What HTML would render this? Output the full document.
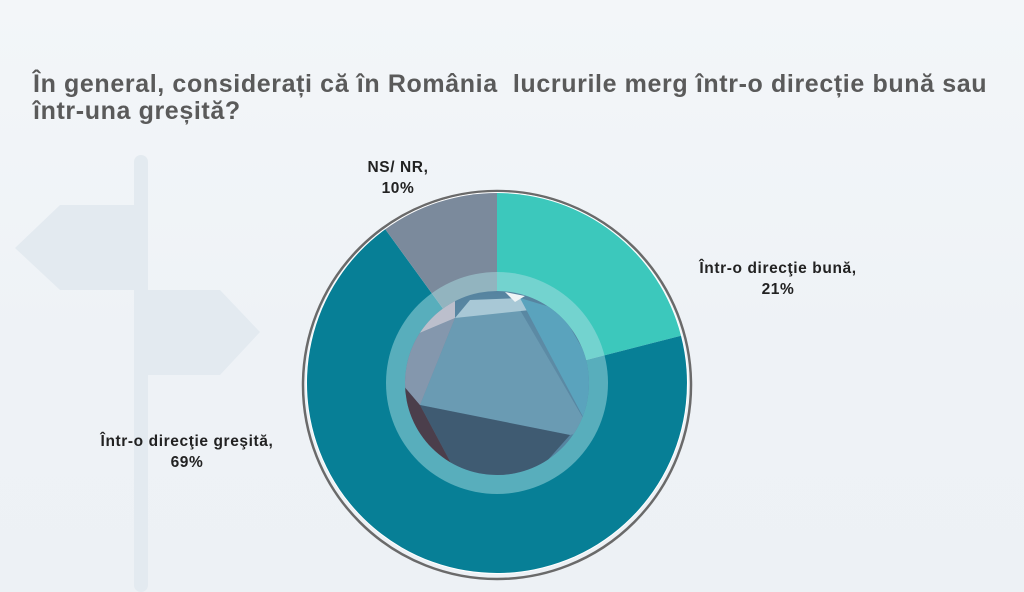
<!DOCTYPE html>
<html><head><meta charset="utf-8"><style>
html,body{margin:0;padding:0}
body{width:1024px;height:592px;overflow:hidden;background:linear-gradient(180deg,#f3f6f9 0%,#eef2f6 60%,#edf1f5 100%);position:relative;font-family:"Liberation Sans",sans-serif}
.t{position:absolute;left:33px;top:71px;font-size:25px;letter-spacing:0.62px;font-weight:bold;color:#5a5a5a;line-height:27px;white-space:nowrap}
.l{position:absolute;font-family:"Liberation Sans",sans-serif;font-weight:bold;font-size:15.5px;letter-spacing:0.6px;color:#222;text-align:center;line-height:21px;white-space:nowrap}
</style></head><body>
<svg width="1024" height="592" style="position:absolute;left:0;top:0">
<defs>
<radialGradient id="g" cx="0.5" cy="0.5" r="0.5"><stop offset="0" stop-color="#6897ae"/><stop offset="1" stop-color="#5684a0"/></radialGradient>
<clipPath id="c"><circle cx="497" cy="383" r="92"/></clipPath>
</defs>
<g fill="#e3eaf0">
<rect x="134" y="155" width="14" height="437" rx="7"/>
<polygon points="15,248 60,205 137,205 137,290 60,290"/>
<polygon points="148,290 220,290 260,332 220,375 148,375"/>
</g>
<circle cx="497" cy="385" r="194" fill="none" stroke="#6a6a6a" stroke-width="2.5"/>
<circle cx="497" cy="383" r="191" fill="#fff"/>
<path d="M497,383 L497,193 A190,190 0 0 1 681,335.7 Z" fill="#3cc8bc"/>
<path d="M497,383 L681,335.7 A190,190 0 1 1 385.3,229.3 Z" fill="#077f96"/>
<path d="M497,383 L385.3,229.3 A190,190 0 0 1 497,193 Z" fill="#7b8a9c"/>
<circle cx="497" cy="383" r="111" fill="#a9dde2" fill-opacity="0.5"/>
<circle cx="497" cy="383" r="92" fill="url(#g)"/>
<g clip-path="url(#c)">
<polygon points="455,318 520,310 590,430 570,435 420,405" fill="#6a9bb3"/>
<polygon points="455,318 470,300 520,298 530,310" fill="#a8c8d6"/>
<polygon points="520,298 560,310 595,370 590,430" fill="#5aa3bd"/>
<polygon points="420,405 570,435 530,480 460,480" fill="#3f5b72"/>
<polygon points="403,385 420,405 460,480 420,470" fill="#4b3e4b"/>
<polygon points="403,340 455,318 420,405 403,385" fill="#8497ad"/>
<polygon points="410,320 455,300 455,318 403,340" fill="#bcbfcc"/>
<polygon points="505,292 525,296 515,302" fill="#eef4f6"/>
</g>
</svg>
<div class="t">În general, considerați că în România&nbsp; lucrurile merg într-o direcție bună sau<br>într-una greșită?</div>
<div class="l" style="left:298px;top:157px;width:200px">NS/ NR,<br>10%</div>
<div class="l" style="left:678px;top:258px;width:200px">Într-o direcţie bună,<br>21%</div>
<div class="l" style="left:87px;top:431px;width:200px">Într-o direcţie greşită,<br>69%</div>
</body></html>
